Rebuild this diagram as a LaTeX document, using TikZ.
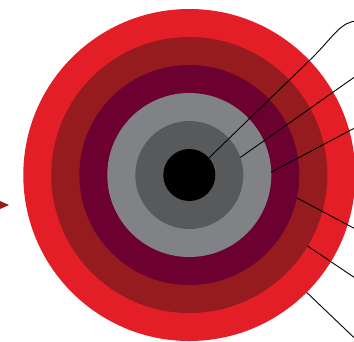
\documentclass[tikz,border=0pt]{standalone}
\definecolor{cRed}{HTML}{E31E26}
\definecolor{cDarkRed}{HTML}{961B1F}
\definecolor{cPurple}{HTML}{6C0031}
\definecolor{cLightGrey}{HTML}{808285}
\definecolor{cDarkGrey}{HTML}{58595B}
\begin{document}
\begin{tikzpicture}[x=1pt,y=-1pt,
  ring/.style={circle,inner sep=0pt,outer sep=0pt,draw=none,fill=#1},
  leader/.style={draw=black,line width=0.9pt}]
\useasboundingbox (0,0) rectangle (354,341);
\coordinate (ctr) at (189.3,175);
\node[ring=cRed,minimum size=332pt] (c6) at (ctr) {};
\node[ring=cDarkRed,minimum size=276pt] (c5) at (ctr) {};
\node[ring=cPurple,minimum size=220pt] (c4) at (ctr) {};
\node[ring=cLightGrey,minimum size=164pt] (c3) at (ctr) {};
\node[ring=cDarkGrey,minimum size=108pt] (c2) at (ctr) {};
\node[ring=black,minimum size=52pt] (c1) at (ctr) {};
% arrow head at left edge
\fill[cDarkRed] (-1,200.5) -- (9,205) -- (-1,209.5) -- cycle;
% free ends
\coordinate (e1) at (358,21);
\coordinate (e2) at (356,76);
\coordinate (e3) at (356,127.3);
\coordinate (e4) at (356,229.3);
\coordinate (e5) at (356,278.6);
\coordinate (e6) at (356,339.5);
\draw[leader] (c1.41) -- (312,58) .. controls (334,36) and (341,21) .. (e1);
\draw[leader] (c2.19) -- (e2);
\draw[leader] (c3.2) -- (e3);
\draw[leader] (c4.-12) -- (e4);
\draw[leader] (c5.-31) -- (e5);
\draw[leader] (c6.-45) -- (e6);
\end{tikzpicture}
\end{document}
